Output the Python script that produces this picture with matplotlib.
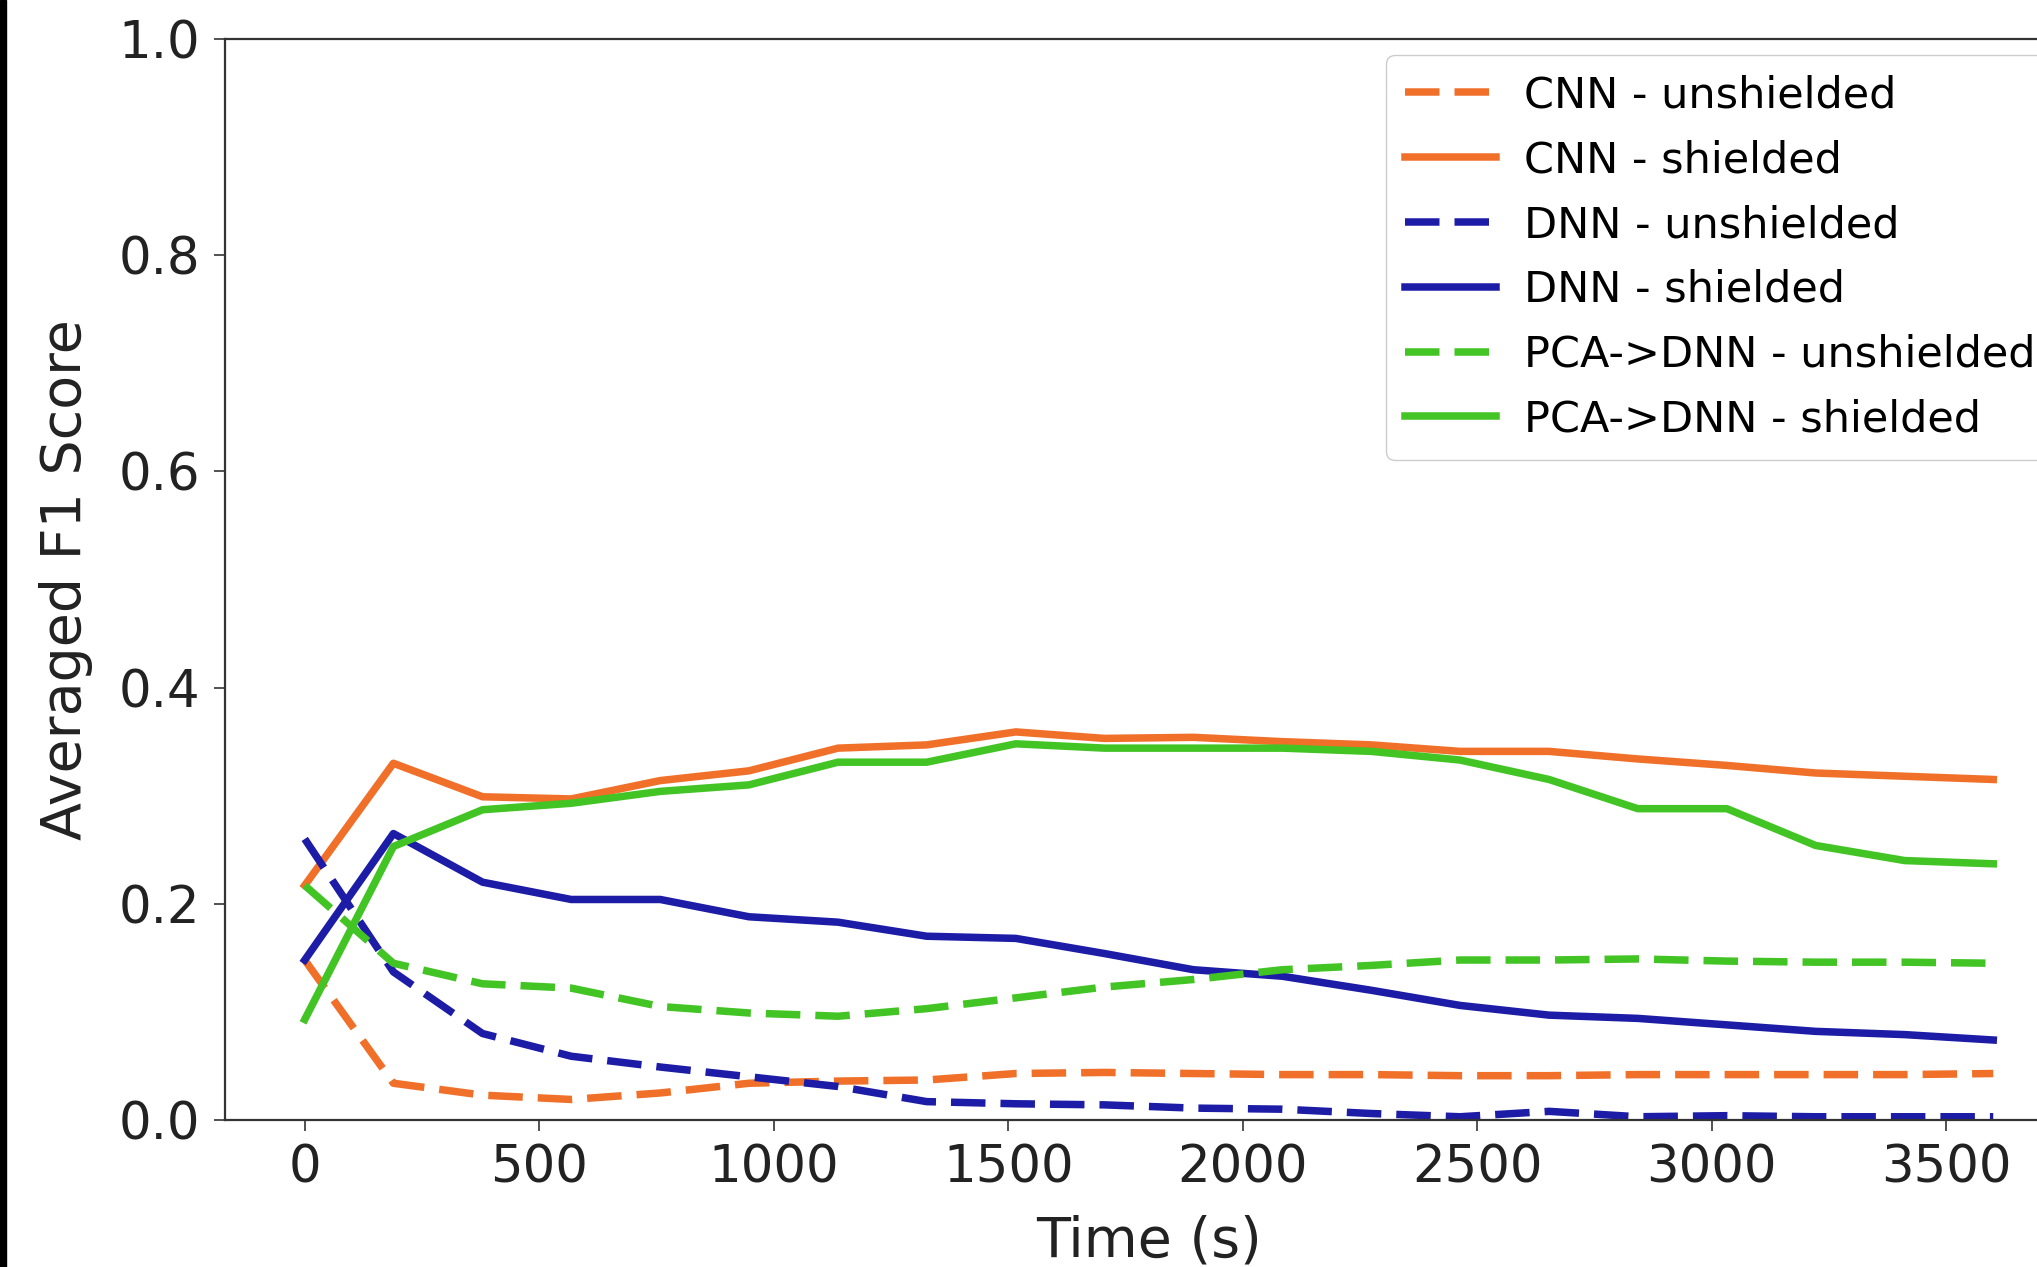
import matplotlib
matplotlib.use("Agg")
import matplotlib.pyplot as plt
from matplotlib.patches import Rectangle

# time axis (s)
time_s = [0, 189, 379, 568, 758, 947, 1137, 1326, 1516, 1705,
          1895, 2084, 2274, 2463, 2653, 2842, 3032, 3221, 3411, 3600]

cnn_unshielded = [0.148, 0.034, 0.023, 0.019, 0.025, 0.034, 0.036, 0.037, 0.043, 0.044,
                  0.043, 0.042, 0.042, 0.041, 0.041, 0.042, 0.042, 0.042, 0.042, 0.043]
cnn_shielded = [0.217, 0.330, 0.299, 0.297, 0.314, 0.323, 0.344, 0.347, 0.359, 0.353,
                0.354, 0.350, 0.347, 0.341, 0.341, 0.334, 0.328, 0.321, 0.318, 0.315]
dnn_unshielded = [0.260, 0.137, 0.080, 0.059, 0.049, 0.040, 0.031, 0.017, 0.015, 0.014,
                  0.011, 0.010, 0.006, 0.003, 0.008, 0.003, 0.004, 0.003, 0.003, 0.003]
dnn_shielded = [0.148, 0.265, 0.220, 0.204, 0.204, 0.188, 0.183, 0.170, 0.168, 0.154,
                0.139, 0.133, 0.120, 0.106, 0.097, 0.094, 0.088, 0.082, 0.079, 0.074]
pca_unshielded = [0.217, 0.145, 0.126, 0.122, 0.105, 0.099, 0.096, 0.103, 0.113, 0.123,
                  0.130, 0.139, 0.143, 0.148, 0.148, 0.149, 0.147, 0.146, 0.146, 0.145]
pca_shielded = [0.093, 0.253, 0.287, 0.293, 0.304, 0.310, 0.331, 0.331, 0.348, 0.344,
                0.344, 0.344, 0.341, 0.333, 0.315, 0.288, 0.288, 0.254, 0.240, 0.237]

orange = '#f0702a'
blue = '#1c1ca6'
green = '#42c424'

fig = plt.figure(figsize=(20.37, 12.67), dpi=100)
# the reference is a cropped screenshot: the axes run past the right edge
ax = fig.add_axes([225 / 2037, 147 / 1267, 1848 / 2037, 1081 / 1267])

lw = 5.4
dash = (4.6, 2.0)
ax.plot(time_s, cnn_unshielded, color=orange, lw=lw, ls='--', dashes=dash, label='CNN - unshielded')
ax.plot(time_s, cnn_shielded, color=orange, lw=lw, label='CNN - shielded')
ax.plot(time_s, dnn_unshielded, color=blue, lw=lw, ls='--', dashes=dash, label='DNN - unshielded')
ax.plot(time_s, dnn_shielded, color=blue, lw=lw, label='DNN - shielded')
ax.plot(time_s, pca_unshielded, color=green, lw=lw, ls='--', dashes=dash, label='PCA->DNN - unshielded')
ax.plot(time_s, pca_shielded, color=green, lw=lw, label='PCA->DNN - shielded')

ax.set_xlim(-170, 3770)
ax.set_ylim(0, 1.0)
ax.set_xticks([0, 500, 1000, 1500, 2000, 2500, 3000, 3500])
ax.set_yticks([0.0, 0.2, 0.4, 0.6, 0.8, 1.0])
ax.tick_params(labelsize=37, length=8, width=1.2, color='#333333', labelcolor='#222222')
ax.tick_params(axis='y', pad=10)
ax.tick_params(axis='x', pad=9)
for s in ax.spines.values():
    s.set_linewidth(1.6)
    s.set_color('#333333')

ax.set_xlabel('Time (s)', fontsize=40, labelpad=15, color='#222222')
ax.set_ylabel('Averaged F1 Score', fontsize=40, labelpad=18, color='#222222')

ax.legend(loc='upper left', bbox_to_anchor=(1386 / 2037, 1 - 55 / 1267),
          bbox_transform=fig.transFigure, borderaxespad=0, fontsize=31,
          handlelength=2.1, handletextpad=0.65, labelspacing=0.53,
          borderpad=0.45, frameon=True, edgecolor='#cccccc', framealpha=1.0)

# black border strip of the screenshot on the left
fig.patches.append(Rectangle((0, 0), 6 / 2037, 1, transform=fig.transFigure,
                             color='black', zorder=10))

fig.savefig('out.png', dpi=100)
